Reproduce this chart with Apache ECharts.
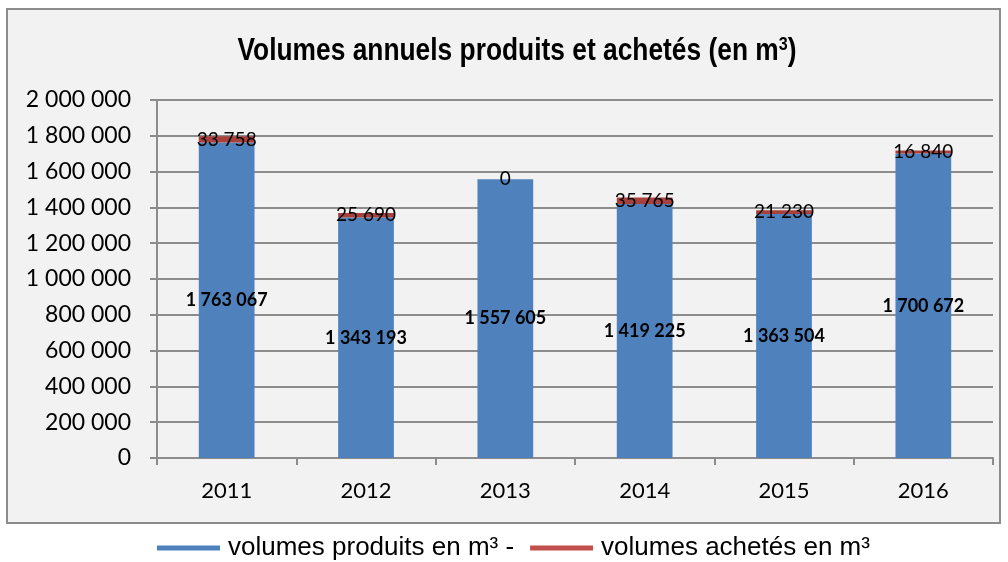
<!DOCTYPE html>
<html><head><meta charset="utf-8">
<script src="https://cdn.jsdelivr.net/npm/echarts@6/dist/echarts.min.js"></script>
<style>html,body{margin:0;padding:0;background:#fff}#c{width:1008px;height:562px}</style>
</head><body><div id="c"></div>
<script>
const years = ['2011','2012','2013','2014','2015','2016'];
const produits = [1763067, 1343193, 1557605, 1419225, 1363504, 1700672];
const achetes = [33758, 25690, 0, 35765, 21230, 16840];
const seriesNames = ['volumes produits en m³ -', 'volumes achetés en m³'];
const titleText = 'Volumes annuels produits et achetés (en m{s|3})';

function fmt(v){ return String(v).replace(/\B(?=(\d{3})+(?!\d))/g, ' '); }
const tickFont = 'Lato, "Open Sans", sans-serif';
const sans = '"Liberation Sans", Arial, sans-serif';

const chart = echarts.init(document.getElementById('c'), null, {renderer:'canvas'});
chart.setOption({
  animation:false,
  backgroundColor:'#ffffff',
  graphic:[
    {type:'rect', z:-10, shape:{x:7,y:9,width:993,height:514}, style:{fill:'#F2F2F2', stroke:'#8C8C8C', lineWidth:2}},
    {type:'text', x:517, y:51, scaleX:0.85, z:10,
     style:{text:titleText, font:'bold 31px "Liberation Sans", Arial, sans-serif', fill:'#000',
       align:'center', verticalAlign:'middle',
       rich:{s:{font:'bold 19px "Liberation Sans", Arial, sans-serif', fill:'#000', verticalAlign:'top', padding:[0,0,13,0]}}}}
  ],
  legend:{
    top:535, left:157, itemGap:16, padding:0,
    itemWidth:63, itemHeight:5, icon:'rect',
    textStyle:{fontFamily:sans, fontSize:26, color:'#000', padding:[0,0,0,3]},
    data:[{name:seriesNames[0], itemStyle:{color:'#4F81BD'}},{name:seriesNames[1], itemStyle:{color:'#C0504D'}}]
  },
  grid:{left:157, right:15, top:100, bottom:104},
  xAxis:{
    type:'category', data:years,
    axisLine:{lineStyle:{color:'#8C8C8C', width:2}},
    axisTick:{show:true, length:7, lineStyle:{color:'#8C8C8C', width:2}},
    axisLabel:{fontFamily:tickFont, fontSize:22, color:'#000', margin:22}
  },
  yAxis:{
    type:'value', min:0, max:2000000, interval:200000,
    axisLine:{show:true, lineStyle:{color:'#8C8C8C', width:2}},
    axisTick:{show:true, length:7, lineStyle:{color:'#8C8C8C', width:2}},
    splitLine:{lineStyle:{color:'#8C8C8C', width:2}},
    axisLabel:{fontFamily:tickFont, fontSize:23, color:'#000', margin:26, formatter:v=>fmt(v)}
  },
  series:[
    {name:seriesNames[0], type:'bar', stack:'t', barWidth:'40%', data:produits,
     itemStyle:{color:'#4F81BD'},
     label:{show:true, position:'inside', formatter:p=>fmt(p.value), fontFamily:tickFont, fontWeight:'bold', fontSize:18, color:'#000'}},
    {name:seriesNames[1], type:'bar', stack:'t', barWidth:'40%', data:achetes,
     itemStyle:{color:'#A8403C'},
     label:{show:true, position:'inside', formatter:p=>fmt(p.value), fontFamily:tickFont, fontSize:19, color:'#000'}}
  ]
});
</script></body></html>
